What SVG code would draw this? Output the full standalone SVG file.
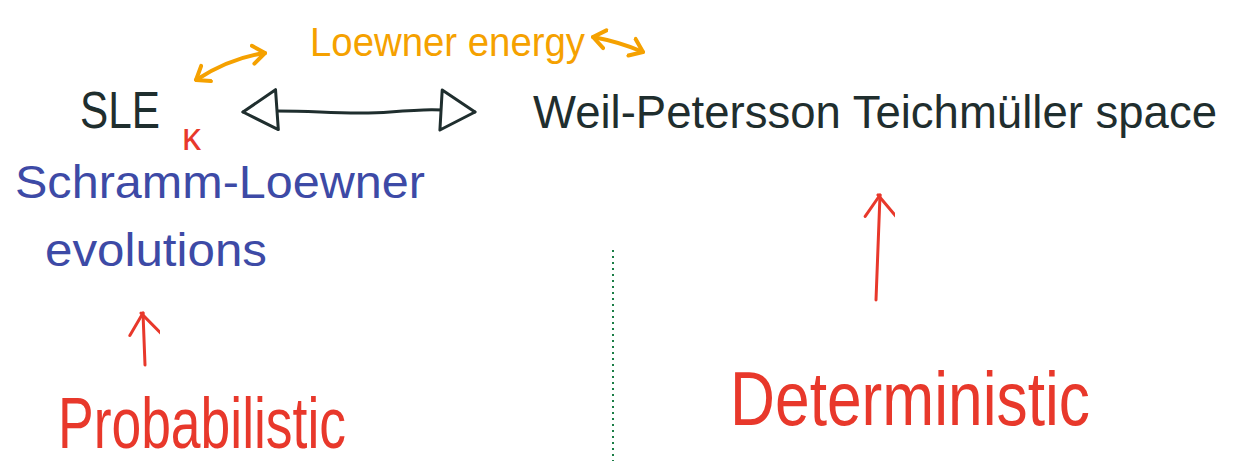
<svg xmlns="http://www.w3.org/2000/svg" width="1238" height="461" viewBox="0 0 1238 461">
<style>
text{font-family:"Liberation Sans","DejaVu Sans",sans-serif;}
.ink{fill:#1f2e2e;}
.blue{fill:#3d4aa6;}
.red{fill:#e8382b;}
.orange{fill:#f5a100;}
.c-dark{stroke:#1f2e2e;stroke-width:3;fill:none;stroke-linecap:round;stroke-linejoin:round;}
.c-orange{stroke:#f5a100;stroke-width:4;fill:none;stroke-linecap:round;stroke-linejoin:round;}
.c-red{stroke:#e8382b;stroke-width:3;fill:none;stroke-linecap:round;stroke-linejoin:round;}
.divider{stroke:#1a7d46;stroke-width:2;stroke-dasharray:2 4;fill:none;}
</style>
<defs>
<marker id="tri" markerUnits="userSpaceOnUse" viewBox="-2 -2 40 44" markerWidth="40" markerHeight="44" refX="34" refY="20" orient="auto-start-reverse">
<path d="M0,0 L34,20 L0,40 Z" fill="#ffffff" stroke="#1f2e2e" stroke-width="3" stroke-linejoin="round"/>
</marker>
<marker id="chev" markerUnits="userSpaceOnUse" viewBox="-2 -12 16 24" markerWidth="16" markerHeight="24" refX="12" refY="0" orient="auto-start-reverse">
<path d="M0,-9 L12,0 L0,9" fill="none" stroke="#f5a100" stroke-width="4" stroke-linecap="round" stroke-linejoin="round"/>
</marker>
<marker id="redhead" markerUnits="userSpaceOnUse" viewBox="-2 -16 26 32" markerWidth="26" markerHeight="32" refX="22" refY="0" orient="auto">
<path d="M0,-14 L22,0 M0,18 L22,-2" fill="none" stroke="#e8382b" stroke-width="3" stroke-linecap="round"/>
</marker>
</defs>
<rect width="1238" height="461" fill="#ffffff"/>

<g id="connectors">
<path class="c-dark" d="M243,112 C300,108 340,116 390,112 S440,110 475,112" marker-start="url(#tri)" marker-end="url(#tri)"/>
<path class="c-orange" d="M196,80 Q230,58 265,53" marker-start="url(#chev)" marker-end="url(#chev)"/>
<path class="c-orange" d="M593,37 Q620,42 643,52" marker-start="url(#chev)" marker-end="url(#chev)"/>
<path class="c-red" d="M145,365 L143,313" marker-end="url(#redhead)"/>
<path class="c-red" d="M876,300 L880,195" marker-end="url(#redhead)"/>
</g>

<line id="divider" class="divider" x1="613" y1="250" x2="613" y2="461"/>

<g id="loewner-energy">
<text class="orange" x="310" y="56" font-size="40" textLength="275" lengthAdjust="spacingAndGlyphs">Loewner energy</text>
</g>

<g id="sle">
<text class="ink" x="80" y="128" font-size="52" textLength="80" lengthAdjust="spacingAndGlyphs">SLE</text>
<text class="red" x="182" y="150" font-size="38">κ</text>
</g>

<g id="schramm-loewner">
<text class="blue" x="15" y="198" font-size="46" textLength="410" lengthAdjust="spacingAndGlyphs">Schramm-Loewner</text>
<text class="blue" x="45" y="266" font-size="46" textLength="222" lengthAdjust="spacingAndGlyphs">evolutions</text>
</g>

<g id="weil-petersson">
<text class="ink" x="533" y="128" font-size="46" textLength="684" lengthAdjust="spacingAndGlyphs">Weil-Petersson Teichmüller space</text>
</g>

<g id="probabilistic">
<text class="red" x="58" y="448" font-size="72" textLength="288" lengthAdjust="spacingAndGlyphs">Probabilistic</text>
</g>

<g id="deterministic">
<text class="red" x="730" y="425" font-size="76" textLength="360" lengthAdjust="spacingAndGlyphs">Deterministic</text>
</g>
</svg>
